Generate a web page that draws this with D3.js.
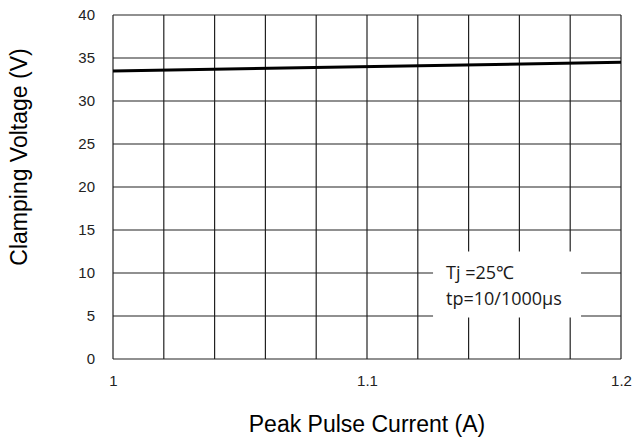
<!DOCTYPE html>
<html>
<head>
<meta charset="utf-8">
<script src="https://cdn.jsdelivr.net/npm/d3@7"></script>
<style>
  body { margin: 0; background: #fff; }
  svg text { font-family: "Liberation Sans", Arial, sans-serif; }
</style>
</head>
<body>
<div id="chart"></div>
<script>
  'use strict';

  // data
  var currentVals = [1.0, 1.2];
  var voltageVals = [33.5, 34.5];
  var xTickVals = [1, 1.1, 1.2];
  var xTickLabels = ['1', '1.1', '1.2'];
  var yTickVals = [0, 5, 10, 15, 20, 25, 30, 35, 40];
  var noteLines = ['Tj =25\u2103', 'tp=10/1000\u03bcs'];

  var svgWidth = 633, svgHeight = 441;
  var margin = { top: 15, right: 12, bottom: 82, left: 113 };
  var width = svgWidth - margin.left - margin.right;
  var height = svgHeight - margin.top - margin.bottom;

  var svg = d3.select('#chart').append('svg')
    .attr('width', svgWidth)
    .attr('height', svgHeight);

  var g = svg.append('g')
    .attr('transform', 'translate(' + margin.left + ',' + margin.top + ')');

  var xScale = d3.scaleLinear().domain([1, 1.2]).range([0, width]);
  var yScale = d3.scaleLinear().domain([0, 40]).range([height, 0]);

  // grid
  g.append('g')
    .selectAll('line')
    .data(d3.range(0, 11).map(function(i) { return 1 + i * 0.02; }))
    .enter().append('line')
    .attr('x1', function(d) { return xScale(d); })
    .attr('x2', function(d) { return xScale(d); })
    .attr('y1', 0).attr('y2', height)
    .attr('stroke', '#222').attr('stroke-width', 1.2);

  g.append('g')
    .selectAll('line')
    .data(yTickVals)
    .enter().append('line')
    .attr('x1', 0).attr('x2', width)
    .attr('y1', function(d) { return yScale(d); })
    .attr('y2', function(d) { return yScale(d); })
    .attr('stroke', '#222').attr('stroke-width', 1.2);

  // axes (labels only)
  var yAxis = d3.axisLeft(yScale).tickValues(yTickVals).tickSize(0).tickPadding(18);
  g.append('g')
    .attr('font-size', 15)
    .call(yAxis)
    .call(function(s) { s.select('.domain').remove(); })
    .selectAll('text')
    .attr('font-size', 15)
    .attr('fill', '#222');

  var xAxis = d3.axisBottom(xScale).tickValues(xTickVals)
    .tickFormat(function(d, i) { return xTickLabels[i]; })
    .tickSize(0).tickPadding(16);
  g.append('g')
    .attr('transform', 'translate(0,' + height + ')')
    .call(xAxis)
    .call(function(s) { s.select('.domain').remove(); })
    .selectAll('text')
    .attr('font-size', 15)
    .attr('fill', '#222');

  // curve
  var line = d3.line()
    .x(function(d, i) { return xScale(currentVals[i]); })
    .y(function(d) { return yScale(d); });

  g.append('path')
    .datum(voltageVals)
    .attr('d', line)
    .attr('fill', 'none')
    .attr('stroke', '#000')
    .attr('stroke-width', 3);

  // note box
  var note = g.append('g')
    .attr('transform', 'translate(' + xScale(1.126) + ',' + yScale(12.5) + ')');
  note.append('rect')
    .attr('x', 0).attr('y', 0)
    .attr('width', 148).attr('height', 66)
    .attr('fill', '#fff');
  note.selectAll('text')
    .data(noteLines)
    .enter().append('text')
    .attr('x', 13)
    .attr('y', function(d, i) { return 27 + i * 26; })
    .style('font-family', '"Open Sans", sans-serif')
    .style('font-size', '18px')
    .attr('fill', '#1a1a1a')
    .text(function(d) { return d; });

  // axis titles
  svg.append('text')
    .attr('transform', 'rotate(-90)')
    .attr('x', -157)
    .attr('y', 27)
    .style('text-anchor', 'middle')
    .style('font-size', '23px')
    .text('Clamping Voltage (V)');

  svg.append('text')
    .attr('x', margin.left + width / 2)
    .attr('y', 432)
    .style('text-anchor', 'middle')
    .style('font-size', '23px')
    .text('Peak Pulse Current (A)');
</script>
</body>
</html>
